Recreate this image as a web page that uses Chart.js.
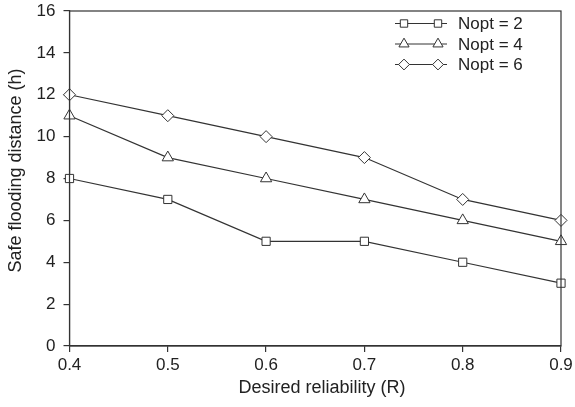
<!DOCTYPE html>
<html>
<head>
<meta charset="utf-8">
<script src="https://cdn.jsdelivr.net/npm/chart.js@4/dist/chart.umd.min.js"></script>
<style>
html,body{margin:0;padding:0;background:#fff;}
#wrap{width:575px;height:407px;}
</style>
</head>
<body>
<div id="wrap"><canvas id="c" width="575" height="407"></canvas></div>
<script>
const reliability = [0.4, 0.5, 0.6, 0.7, 0.8, 0.9];
const nopt2 = [8, 7, 5, 5, 4, 3];
const nopt4 = [11, 9, 8, 7, 6, 5];
const nopt6 = [12, 11, 10, 9, 7, 6];
const seriesLabels = ['Nopt = 2', 'Nopt = 4', 'Nopt = 6'];
const xTitle = 'Desired reliability (R)';
const yTitle = 'Safe flooding distance (h)';

const ink = '#333333';
const textInk = '#222222';
const font = '"Liberation Sans", Arial, sans-serif';

function pts(vals){ return vals.map((v,i)=>({x:reliability[i], y:v})); }

function drawMarker(ctx, style, x, y, r){
  ctx.beginPath();
  if(style==='rect'){
    const s = r*Math.SQRT1_2;
    ctx.rect(x-s, y-s, 2*s, 2*s);
  } else if(style==='triangle'){
    ctx.moveTo(x, y - r);
    ctx.lineTo(x + r*0.866, y + r*0.5);
    ctx.lineTo(x - r*0.866, y + r*0.5);
    ctx.closePath();
  } else {
    ctx.moveTo(x, y-r); ctx.lineTo(x+r, y); ctx.lineTo(x, y+r); ctx.lineTo(x-r, y); ctx.closePath();
  }
  ctx.fillStyle='#fff'; ctx.fill();
  ctx.strokeStyle=ink; ctx.lineWidth=1; ctx.stroke();
}

const framePlugin = {
  id:'frame',
  afterDatasetsDraw(chart){
    const {ctx, chartArea:a} = chart;
    ctx.save();
    ctx.strokeStyle = ink; ctx.lineWidth = 1.2;
    ctx.strokeRect(a.left, a.top, a.right-a.left, a.bottom-a.top);
    // legend
    const lx0 = a.left + 325.5, lx1 = a.left + 377.5;
    const m0 = a.left + 334.5, m1 = a.left + 368.5, tx = a.left + 388.5;
    chart.data.datasets.forEach((ds,i)=>{
      const y = a.top + 12.5 + i*20.5;
      ctx.beginPath(); ctx.moveTo(lx0,y); ctx.lineTo(lx1,y);
      ctx.strokeStyle=ink; ctx.lineWidth=1; ctx.stroke();
      drawMarker(ctx, ds.pointStyle, m0, y, ds.pointRadius*0.9);
      drawMarker(ctx, ds.pointStyle, m1, y, ds.pointRadius*0.9);
      ctx.fillStyle=textInk; ctx.font='17px '+font; ctx.textBaseline='middle'; ctx.textAlign='left';
      ctx.fillText(ds.label, tx, y+1);
    });
    // axis titles
    ctx.fillStyle = textInk; ctx.font = '18px '+font;
    ctx.textAlign='center'; ctx.textBaseline='middle';
    ctx.fillText(xTitle, 322, 388);
    ctx.translate(16, 170.5); ctx.rotate(-Math.PI/2);
    ctx.fillText(yTitle, 0, 0);
    ctx.restore();
  }
};

const mk = (label, data, style, r) => ({
  label, data: pts(data), borderColor: ink, borderWidth: 1.2,
  pointStyle: style, pointRadius: r, pointHoverRadius: r,
  pointBackgroundColor:'#fff', pointBorderColor: ink, pointBorderWidth: 1,
  showLine: true, tension: 0, clip: false
});

new Chart(document.getElementById('c'), {
  type:'scatter',
  data:{ datasets:[
    mk(seriesLabels[0], nopt2, 'rect', 5.8),
    mk(seriesLabels[1], nopt4, 'triangle', 6.5),
    mk(seriesLabels[2], nopt6, 'rectRot', 6)
  ]},
  options:{
    responsive:false, animation:false, devicePixelRatio:1,
    layout:{padding:{top:11, right:14, left:0, bottom:0}},
    plugins:{legend:{display:false}, tooltip:{enabled:false}},
    scales:{
      x:{ type:'linear', min:0.4, max:0.9,
        afterFit(s){ s.height = 61; s.paddingLeft = 0; s.paddingRight = 0; },
        afterBuildTicks(s){ s.ticks = reliability.map(v=>({value:v})); },
        ticks:{ color:textInk, font:{family:font, size:17}, padding:3,
          callback:v=>v.toFixed(1) },
        grid:{ drawOnChartArea:false, tickLength:6, color:ink, lineWidth:1.2 },
        border:{ color:ink, width:1.2 },
        title:{ display:false, text:xTitle }
      },
      y:{ min:0, max:16,
        afterFit(s){ s.width = 69.5; s.paddingTop = 0; s.paddingBottom = 0; },
        ticks:{ stepSize:2, color:textInk, font:{family:font, size:17}, padding:8 },
        grid:{ drawOnChartArea:false, tickLength:6, color:ink, lineWidth:1.2 },
        border:{ color:ink, width:1.2 },
        title:{ display:false, text:yTitle }
      }
    }
  },
  plugins:[framePlugin]
});
</script>
</body>
</html>
